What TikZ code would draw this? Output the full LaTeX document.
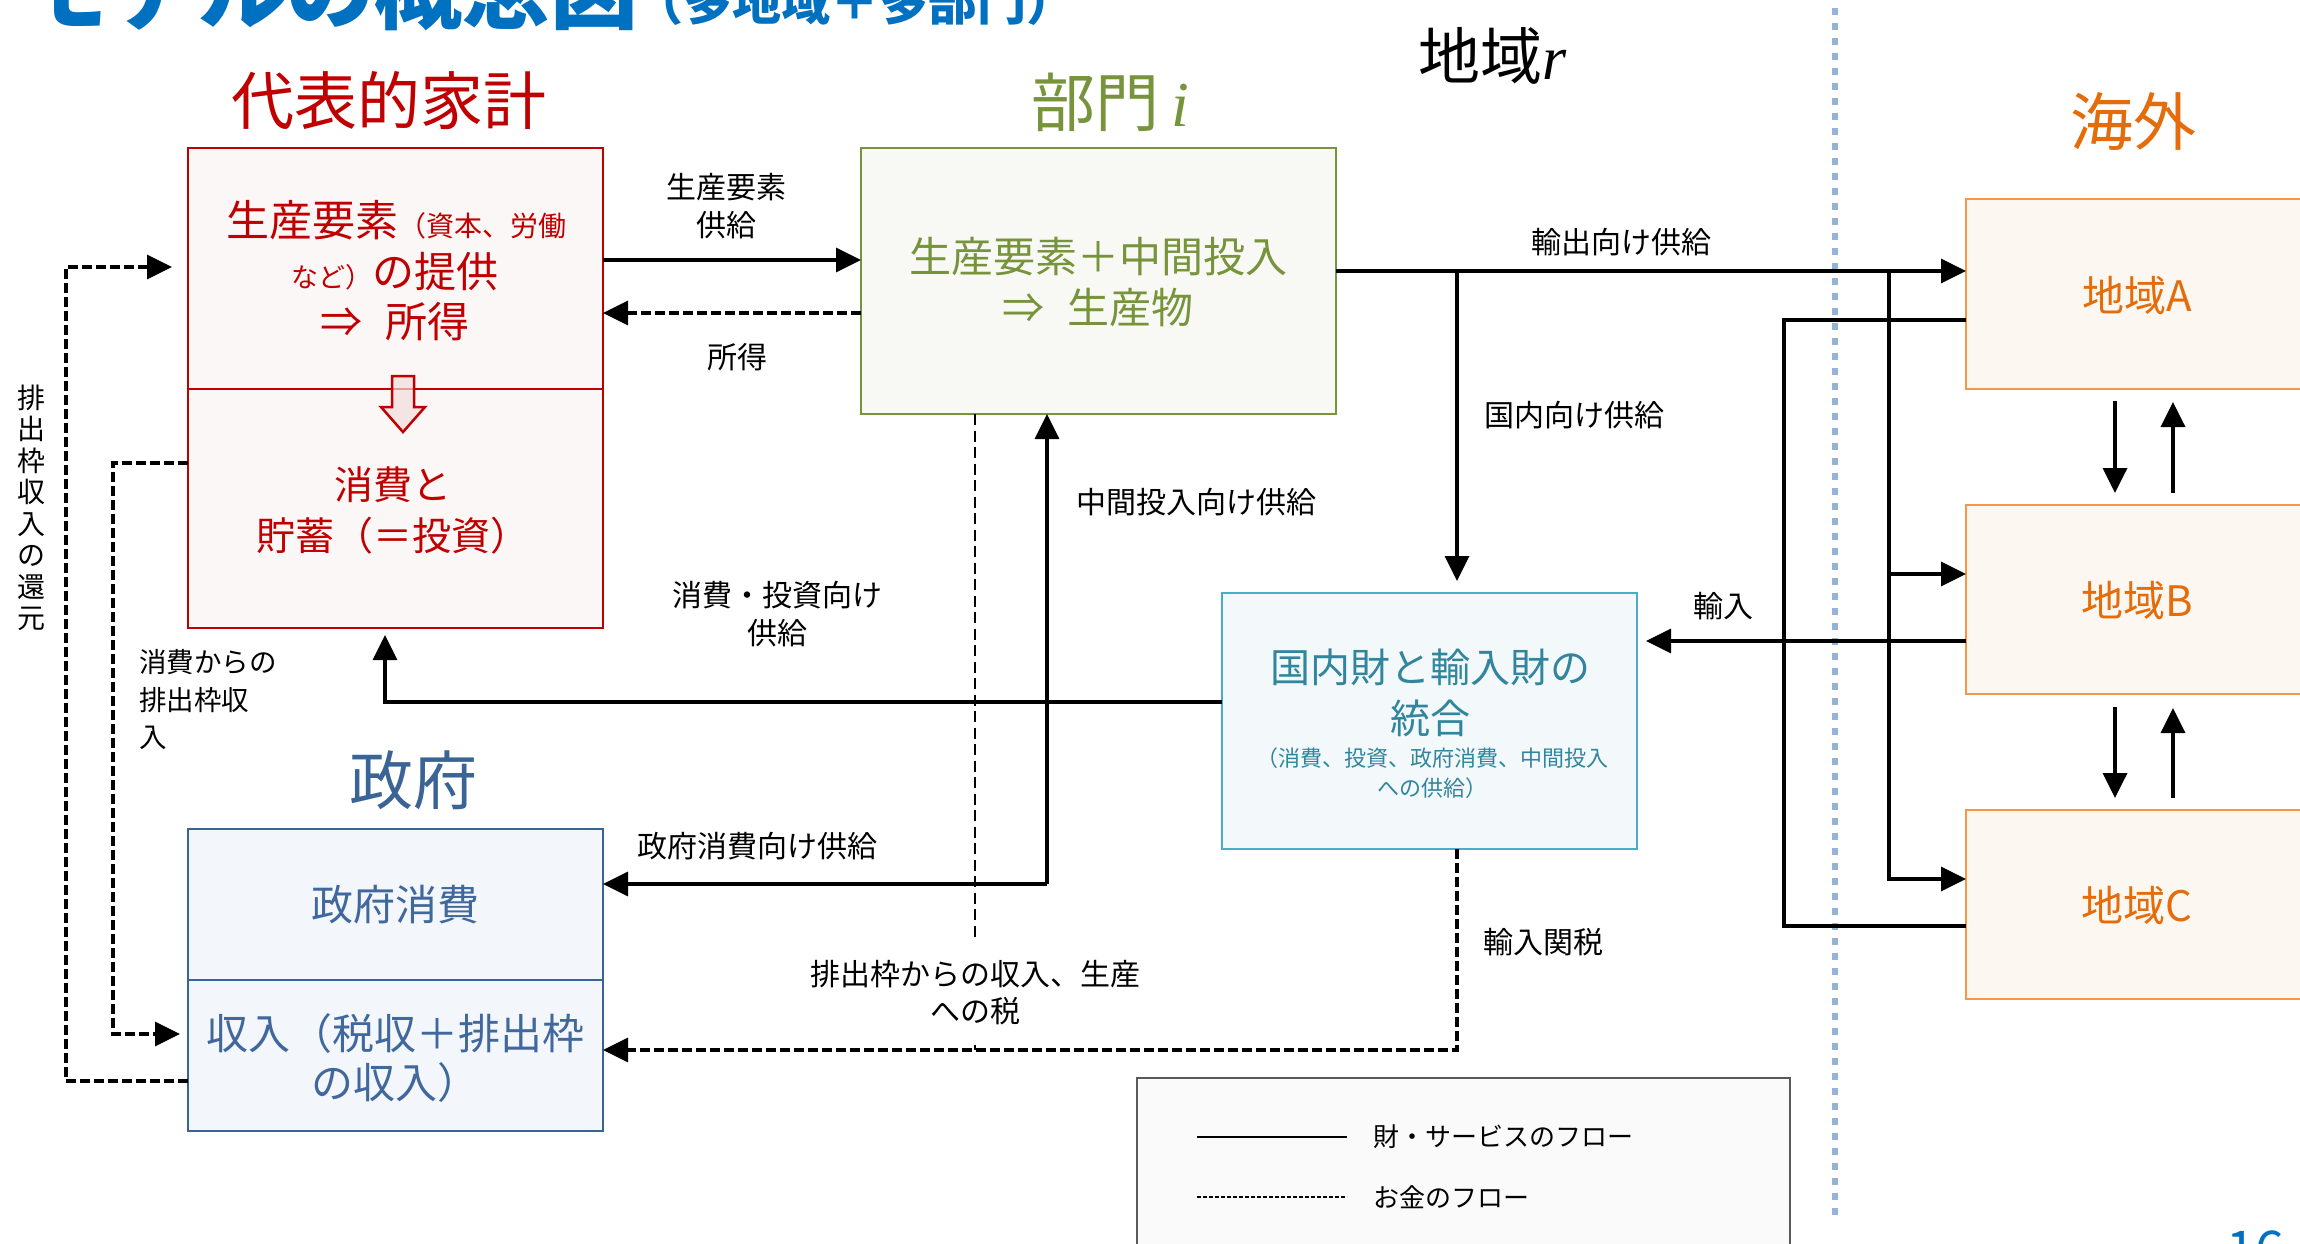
\documentclass[tikz,border=0pt]{standalone}
\usepackage{fontspec}
\setmainfont{Noto Sans CJK JP}
\newfontfamily\serifit{Liberation Serif}
\usetikzlibrary{arrows.meta,calc}
\definecolor{hhred}{HTML}{C00000}
\definecolor{hhfill}{HTML}{FCF7F7}
\definecolor{hharrow}{HTML}{F2DCDB}
\definecolor{secgreen}{HTML}{77933C}
\definecolor{secfill}{HTML}{F8F9F4}
\definecolor{intline}{HTML}{4BACC6}
\definecolor{inttext}{HTML}{31859C}
\definecolor{intfill}{HTML}{F3F8FB}
\definecolor{govline}{HTML}{3A6496}
\definecolor{govtext}{HTML}{41689C}
\definecolor{govfill}{HTML}{F3F6FB}
\definecolor{orline}{HTML}{F79646}
\definecolor{ortext}{HTML}{E46C0A}
\definecolor{orfill}{HTML}{FDF7F1}
\definecolor{divblue}{HTML}{95B3D7}
\definecolor{titleblue}{HTML}{0070C0}
\definecolor{legline}{HTML}{595959}
\definecolor{legfill}{HTML}{FAFAFA}
\newcommand\myfs[2]{\fontsize{#1pt}{#2pt}\selectfont}
\begin{document}
\begin{tikzpicture}[x=1pt,y=-1pt,
  mybox/.style={draw, line width=2.8pt, inner sep=0pt, outer sep=0pt, anchor=north west},
  txt/.style={inner sep=0pt, align=center},
  lbl/.style={inner sep=0pt, align=center, font=\myfs{30}{38}},
  flow/.style={line width=3.5pt, draw=black},
  money/.style={line width=3.2pt, draw=black, dash pattern=on 10pt off 4pt},
  thindash/.style={line width=2.4pt, draw=black, dash pattern=on 11pt off 5.5pt},
  arr/.style={-{Triangle[length=25pt,width=24pt]}},
]
\useasboundingbox (0,0) rectangle (2300,1244);
\clip (0,0) rectangle (2300,1244);
\fill[white] (0,0) rectangle (2300,1244);

% divider
\draw[divblue, line width=6pt, dash pattern=on 7pt off 8pt] (1835,8) -- (1835,1215);

% title
\node[anchor=base west, inner sep=0pt, text=titleblue, font=\bfseries\myfs{88}{96}] (title) at (22,23) {モデルの概念図};
\node[anchor=base west, inner sep=0pt, text=titleblue, font=\bfseries\myfs{49}{54}] (subtitle) at (634,21) {（多地域＋多部門）};

% headings
\node[txt, text=hhred, font=\myfs{63}{70}] (hhhead) at (389,101) {代表的家計};
\node[anchor=base west, inner sep=0pt, text=secgreen, font=\myfs{64}{70}] (sechead) at (1031,127) {部門\hspace{12pt}{\serifit\itshape i}};
\node[anchor=base west, inner sep=0pt, text=black, font=\myfs{62}{70}] (reghead) at (1418,80) {地域{\serifit\itshape r}};
\node[txt, text=ortext, font=\myfs{63}{70}] (forhead) at (2133,122) {海外};
\node[txt, text=govline, font=\myfs{64}{70}] (govhead) at (413,780) {政府};

% boxes
\node[mybox, draw=hhred, fill=hhfill, minimum width=415pt, minimum height=241pt] (hhtop) at (188,148) {};
\node[mybox, draw=hhred, fill=hhfill, minimum width=415pt, minimum height=239pt] (hhbot) at (188,389) {};
\node[mybox, draw=secgreen, fill=secfill, minimum width=475pt, minimum height=266pt] (sec) at (861,148) {};
\node[mybox, draw=intline, fill=intfill, minimum width=415pt, minimum height=256pt] (int) at (1222,593) {};
\node[mybox, draw=govline, fill=govfill, minimum width=415pt, minimum height=151pt] (govtop) at (188,829) {};
\node[mybox, draw=govline, fill=govfill, minimum width=415pt, minimum height=151pt] (govbot) at (188,980) {};
\node[mybox, draw=orline, fill=orfill, minimum width=360pt, minimum height=190pt] (A) at (1966,199) {};
\node[mybox, draw=orline, fill=orfill, minimum width=360pt, minimum height=189pt] (B) at (1966,505) {};
\node[mybox, draw=orline, fill=orfill, minimum width=360pt, minimum height=189pt] (C) at (1966,810) {};
\node[mybox, draw=legline, line width=2pt, fill=legfill, minimum width=653pt, minimum height=200pt] (leg) at (1137,1078) {};

% hollow arrow in household box
\draw[hhred, line width=2.5pt, fill=hharrow, fill opacity=0.7, line join=miter]
  (392,376) -- (414,376) -- (414,407) -- (425,407) -- (403,432) -- (381,407) -- (392,407) -- cycle;

% box texts
\node[anchor=base, inner sep=0pt, text=hhred] (hh1) at (396,236) {{\myfs{43}{50}生産要素}{\myfs{28}{32}（資本、労働}};
\node[anchor=base, inner sep=0pt, text=hhred] (hh2) at (395,287) {{\myfs{27}{30}など）}{\myfs{42}{50}の提供}};
\node[anchor=base, inner sep=0pt, text=hhred, font=\myfs{42}{50}] (hh3) at (395,337) {⇒\hspace{0.55em}所得};
\node[txt, text=hhred, font=\myfs{39}{51}] (hh4) at (393,510) {消費と\\貯蓄（＝投資）};
\node[txt, text=secgreen, font=\myfs{42}{51}] (sectxt) at (1098,282) {生産要素＋中間投入\\⇒\hspace{0.55em}生産物};
\node[txt, text=inttext, font=\myfs{40}{51}] (inttxt) at (1430,693) {国内財と輸入財の\\統合};
\node[txt, text=inttext, font=\myfs{22}{30}] (intsub) at (1432,773) {（消費、投資、政府消費、中間投入\\への供給）};
\node[txt, text=govtext, font=\myfs{42}{50}] (govtxt) at (395,905) {政府消費};
\node[txt, text=govtext, font=\myfs{42}{49}] (revtxt) at (395,1058) {収入（税収＋排出枠\\の収入）};
\node[txt, text=ortext, font=\myfs{42}{48}] (Atxt) at (2137,296) {地域A};
\node[txt, text=ortext, font=\myfs{42}{48}] (Btxt) at (2137,601) {地域B};
\node[txt, text=ortext, font=\myfs{42}{48}] (Ctxt) at (2137,906) {地域C};

% labels
\node[lbl] (lfs) at (726,206) {生産要素\\供給};
\node[lbl] (linc) at (737,357) {所得};
\node[lbl] (lexp) at (1621,242) {輸出向け供給};
\node[lbl] (ldom) at (1574,415) {国内向け供給};
\node[lbl] (lmid) at (1196,502) {中間投入向け供給};
\node[lbl] (lcons) at (777,614) {消費・投資向け\\供給};
\node[lbl] (limp) at (1723,606) {輸入};
\node[lbl] (ltar) at (1543,942) {輸入関税};
\node[lbl] (lgov) at (757,846) {政府消費向け供給};
\node[lbl, inner xsep=0pt, inner ysep=19pt, font=\myfs{30}{37}] (tax) at (975,993) {排出枠からの収入、生産\\への税};
\node[anchor=west, inner sep=0pt, align=left, font=\myfs{27.5}{37.5}] (lemis) at (139,700) {消費からの\\排出枠収\\入};
\node[txt, font=\myfs{28}{31.5}] (lret) at (31,508) {排\\出\\枠\\収\\入\\の\\還\\元};

% named junctions
\coordinate (dsplit) at (1457,271);
\coordinate (xsplit) at (1889,271);
\coordinate (imA) at (1784,320);
\coordinate (imC) at (1784,926);
\coordinate (mid) at (1047,884);
\coordinate (rev) at (1457,1050);

% goods flows
\draw[flow,arr] (hhtop.east |- 0,260) -- (sec.west |- 0,260);
\draw[flow,arr] (sec.east |- dsplit) -- (A.west |- dsplit);
\draw[flow,arr] (dsplit) -- ($(int.north -| dsplit)+(0,-12)$);
\draw[flow,arr] (xsplit) |- (C.west |- 0,879);
\draw[flow,arr] (xsplit |- 0,574) -- (B.west |- 0,574);
\draw[flow] (A.west |- imA) -- (imA) -- (imC) -- (C.west |- imC);
\draw[flow,arr] (B.west |- 0,641) -- ($(int.east |- 0,641)+(9,0)$);
\draw[flow,arr] (int.west |- 0,702) -| ($(hhbot.south -| 385,0)+(0,7)$);
\draw[flow,arr] (mid) -- (sec.south -| mid);
\draw[flow,arr] (mid) -- (govtop.east |- mid);
\draw[flow,arr] ($(A.south -| 2115,0)+(0,12)$) -- ($(B.north -| 2115,0)+(0,-12)$);
\draw[flow,arr] ($(B.north -| 2173,0)+(0,-12)$) -- ($(A.south -| 2173,0)+(0,13)$);
\draw[flow,arr] ($(B.south -| 2115,0)+(0,13)$) -- ($(C.north -| 2115,0)+(0,-12)$);
\draw[flow,arr] ($(C.north -| 2173,0)+(0,-12)$) -- ($(B.south -| 2173,0)+(0,14)$);

% money flows
\draw[money,arr] (sec.west |- 0,313) -- (hhtop.east |- 0,313);
\draw[money,arr] (int.south -| rev) -- (rev) -- (govbot.east |- rev);
\draw[thindash] (sec.south -| tax) -- (tax.north);
\draw[thindash] (tax.south) -- (tax.south |- rev);
\draw[money,arr] (govbot.west |- 0,1081) -- (66,1081) -- (66,267) -- ($(hhtop.west |- 0,267)+(-16,0)$);
\draw[money,arr] (hhbot.west |- 0,463) -- (113,463) -- (113,1034) -- ($(govbot.west |- 0,1034)+(-8,0)$);

% legend
\coordinate (lg1a) at (1197,1137);
\coordinate (lg1b) at (1347,1137);
\coordinate (lg2a) at (1197,1197);
\coordinate (lg2b) at (1347,1197);
\draw[line width=2pt] (lg1a) -- (lg1b);
\draw[line width=1.6pt, dash pattern=on 4pt off 2pt] (lg2a) -- (lg2b);
\node[anchor=west, inner sep=0pt, font=\myfs{26}{32}] (leg1) at (1373,1137) {財・サービスのフロー};
\node[anchor=west, inner sep=0pt, font=\myfs{26}{32}] (leg2) at (1373,1197) {お金のフロー};

% page number
\node[anchor=base west, inner sep=0pt, text=titleblue, font=\myfs{52}{56}] (pg) at (2226,1268) {16};
\end{tikzpicture}
\end{document}
